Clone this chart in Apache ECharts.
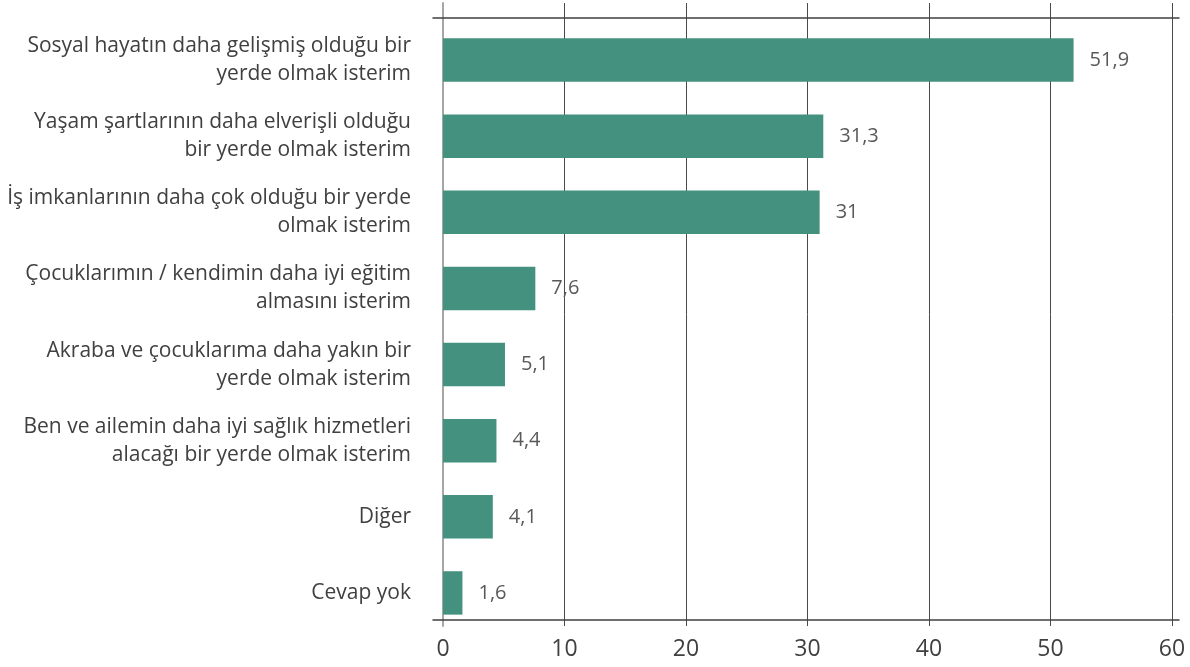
<!DOCTYPE html>
<html>
<head>
<meta charset="utf-8">
<script src="https://cdn.jsdelivr.net/npm/echarts@6/dist/echarts.min.js"></script>
<style>
  html, body { margin: 0; padding: 0; background: #fff; }
  #chart { width: 1190px; height: 667px; }
</style>
</head>
<body>
<div id="chart"></div>
<script>
// kategoriler (yukaridan asagiya)
var categories = [
  'Sosyal hayatın daha gelişmiş olduğu bir\nyerde olmak isterim',
  'Yaşam şartlarının daha elverişli olduğu\nbir yerde olmak isterim',
  'İş imkanlarının daha çok olduğu bir yerde\nolmak isterim',
  'Çocuklarımın / kendimin daha iyi eğitim\nalmasını isterim',
  'Akraba ve çocuklarıma daha yakın bir\nyerde olmak isterim',
  'Ben ve ailemin daha iyi sağlık hizmetleri\nalacağı bir yerde olmak isterim',
  'Diğer',
  'Cevap yok'
];
var values = [51.9, 31.3, 31, 7.6, 5.1, 4.4, 4.1, 1.6];
var axisMin = 0;
var axisMax = 60;
var axisStep = 10;

var font = 'Open Sans';
var chart = echarts.init(document.getElementById('chart'));

chart.setOption({
  animation: false,
  textStyle: { fontFamily: font },
  grid: [
    // dikey cizgiler + deger ekseni
    { left: 443, right: 18, top: 3, bottom: 41, outerBoundsMode: 'none' },
    // cubuklar
    { left: 443, right: 18, top: 22, bottom: 36, outerBoundsMode: 'none' },
    // ust ve alt yatay cizgiler
    { left: 433, right: 11, top: 18, bottom: 47, outerBoundsMode: 'none' }
  ],
  xAxis: [
    {
      gridIndex: 0, type: 'value', min: axisMin, max: axisMax, interval: axisStep,
      axisLine: { show: false }, axisTick: { show: false },
      splitLine: { show: true, lineStyle: { color: '#4a4a4a', width: 1 } },
      axisLabel: { fontSize: 23, color: '#404040', margin: 12, fontFamily: font }
    },
    {
      gridIndex: 1, type: 'value', min: axisMin, max: axisMax, show: false
    },
    {
      gridIndex: 2, type: 'value', position: 'top', min: 0, max: 1,
      axisLine: { show: true, onZero: false, lineStyle: { color: '#404040', width: 1.5 } },
      axisTick: { show: false }, axisLabel: { show: false }, splitLine: { show: false }
    },
    {
      gridIndex: 2, type: 'value', position: 'bottom', min: 0, max: 1,
      axisLine: { show: true, onZero: false, lineStyle: { color: '#404040', width: 1.5 } },
      axisTick: { show: false }, axisLabel: { show: false }, splitLine: { show: false }
    }
  ],
  yAxis: [
    {
      gridIndex: 0, type: 'value', min: 0, max: 1,
      axisLine: { show: true, onZero: false, lineStyle: { color: '#a6a6a6', width: 2 } },
      axisTick: { show: false }, axisLabel: { show: false }, splitLine: { show: false }
    },
    {
      gridIndex: 1, type: 'category', inverse: true, data: categories,
      axisLine: { show: false }, axisTick: { show: false }, splitLine: { show: false },
      axisLabel: {
        margin: 32, fontSize: 21, lineHeight: 28, color: '#404040',
        align: 'right', fontFamily: font
      }
    },
    {
      gridIndex: 2, type: 'value', min: 0, max: 1, show: false
    }
  ],
  series: [
    {
      type: 'bar',
      xAxisIndex: 1,
      yAxisIndex: 1,
      data: values,
      barWidth: '57%',
      itemStyle: { color: '#44917f' },
      label: {
        show: true,
        position: 'right',
        distance: 16,
        fontSize: 20,
        color: '#595959',
        fontFamily: font,
        formatter: function (p) { return String(p.value).replace('.', ','); }
      }
    }
  ]
});
</script>
</body>
</html>
